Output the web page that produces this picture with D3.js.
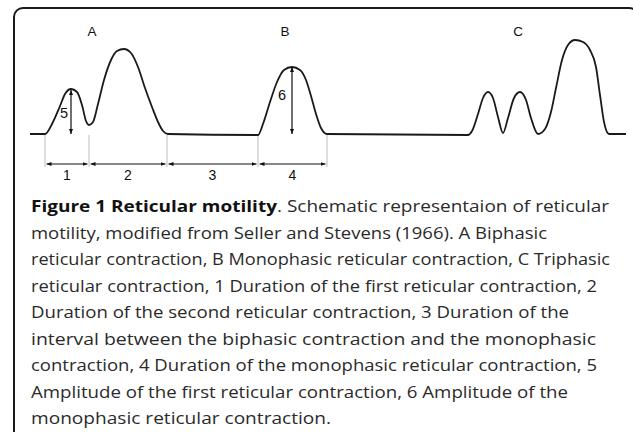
<!DOCTYPE html>
<html>
<head>
<meta charset="utf-8">
<script src="https://cdn.jsdelivr.net/npm/d3@7"></script>
<style>
  body { margin: 0; background: #fff; }
  .trace { fill: none; stroke: #1a1a1a; stroke-width: 1.8px; stroke-linejoin: round; }
  .guide { stroke: #c8c8c8; stroke-width: 1.2px; }
  .arrow { stroke: #111; stroke-width: 1.2px; }
  .lbl { font-family: "Liberation Sans", Arial, sans-serif; fill: #111; }
  .caption { font-family: "Open Sans", sans-serif; fill: #2a2a2a; }
</style>
</head>
<body>
<div class="chart"></div>
<script>

// Trace of reticular pressure (time units, amplitude units)

var time = [0, 15, 22, 30, 35, 41, 47, 52, 56, 59, 63, 68, 74, 81, 87, 94, 101, 108, 115, 122, 128, 133, 138,
    228, 233, 240, 247, 254, 262, 270, 276, 281, 286, 291, 297,
    438, 442, 448, 453, 458, 463, 468, 473, 478, 484, 490, 496, 501, 508,
    515, 521, 526, 532, 538, 545, 553, 560, 566, 570, 574, 579, 596];

var amplitude = [1, 1, 11, 29, 41, 46, 43, 30, 14, 10, 13, 31, 55, 75, 84, 86, 82, 68, 47, 28, 13, 4, 1,
    0, 11, 33, 53, 65, 68, 65, 55, 39, 21, 7, 1,
    0, 4, 21, 37, 43, 37, 18, 2, 17, 37, 43, 35, 17, 1,
    6, 23, 47, 75, 90, 95, 93, 85, 68, 40, 13, 1, 1];

// contraction labels
var contractions = ["A", "B", "C"];
var contractionTime = [62, 255, 488];

// duration markers (boundaries) and their labels
var boundaries = [15, 59, 137, 228, 297];
var durationLabels = ["1", "2", "3", "4"];

// amplitude markers
var amplitudeLabels = ["5", "6"];
var amplitudeTime = [41, 262];
var amplitudePeak = [45, 68];

// caption
var captionBold = "Figure 1 Reticular motility";
var captionLines = [
    ". Schematic representaion of reticular",
    "motility, modified from Seller and Stevens (1966). A Biphasic",
    "reticular contraction, B Monophasic reticular contraction, C Triphasic",
    "reticular contraction, 1 Duration of the first reticular contraction, 2",
    "Duration of the second reticular contraction, 3 Duration of the",
    "interval between the biphasic contraction and the monophasic",
    "contraction, 4 Duration of the monophasic reticular contraction, 5",
    "Amplitude of the first reticular contraction, 6 Amplitude of the",
    "monophasic reticular contraction."
];
// right end of each caption line in the figure
var captionEnd = [609, 547, 610, 597, 569, 596, 597, 568, 331];

var svgWidth = 633;
var svgHeight = 432;

var svg = d3.select(".chart")
    .append("svg")
    .attr("width", svgWidth)
    .attr("height", svgHeight);

// frame, only top-left part visible
svg.append("rect")
    .attr("x", 14)
    .attr("y", 8)
    .attr("width", 624)
    .attr("height", 460)
    .attr("rx", 9)
    .attr("fill", "none")
    .attr("stroke", "#1a1a1a")
    .attr("stroke-width", 2);

var defs = svg.append("defs");
defs.append("marker")
    .attr("id", "head")
    .attr("viewBox", "0 0 10 10")
    .attr("refX", 10)
    .attr("refY", 5)
    .attr("markerWidth", 5)
    .attr("markerHeight", 5)
    .attr("markerUnits", "userSpaceOnUse")
    .attr("orient", "auto-start-reverse")
    .append("path")
    .attr("d", "M0,1 L10,5 L0,9 Z")
    .attr("fill", "#111");

// scales
var xScale = d3.scaleLinear().domain([0, 600]).range([30, 630]);
var yScale = d3.scaleLinear().domain([0, 100]).range([135, 35]);

var points = time.map(function(t, i) {
    return [t, amplitude[i]];
});

var line = d3.line()
    .x(function(d) { return xScale(d[0]); })
    .y(function(d) { return yScale(d[1]); })
    .curve(d3.curveMonotoneX);

// vertical guide lines
var arrowY = 164;
svg.selectAll(".guide")
    .data(boundaries)
    .enter()
    .append("line")
    .attr("class", "guide")
    .attr("x1", function(d) { return xScale(d); })
    .attr("x2", function(d) { return xScale(d); })
    .attr("y1", yScale(0))
    .attr("y2", arrowY + 3);

svg.append("path")
    .datum(points)
    .attr("class", "trace")
    .attr("d", line);

// duration arrows
var segments = d3.pairs(boundaries);
svg.selectAll(".dur")
    .data(segments)
    .enter()
    .append("line")
    .attr("class", "arrow dur")
    .attr("x1", function(d) { return xScale(d[0]) + 1.5; })
    .attr("x2", function(d) { return xScale(d[1]) - 1.5; })
    .attr("y1", arrowY)
    .attr("y2", arrowY)
    .attr("marker-start", "url(#head)")
    .attr("marker-end", "url(#head)");

svg.selectAll(".durText")
    .data(segments)
    .enter()
    .append("text")
    .attr("class", "lbl durText")
    .attr("x", function(d) { return (xScale(d[0]) + xScale(d[1])) / 2; })
    .attr("y", 180)
    .attr("text-anchor", "middle")
    .attr("font-size", "14px")
    .text(function(d, i) { return durationLabels[i]; });

// amplitude arrows
svg.selectAll(".amp")
    .data(amplitudeTime)
    .enter()
    .append("line")
    .attr("class", "arrow amp")
    .attr("x1", function(d) { return xScale(d); })
    .attr("x2", function(d) { return xScale(d); })
    .attr("y1", function(d, i) { return yScale(amplitudePeak[i]); })
    .attr("y2", yScale(1))
    .attr("marker-start", "url(#head)")
    .attr("marker-end", "url(#head)");

svg.selectAll(".ampText")
    .data(amplitudeTime)
    .enter()
    .append("text")
    .attr("class", "lbl ampText")
    .attr("x", function(d, i) { return xScale(d) - (i === 0 ? 7 : 10); })
    .attr("y", function(d, i) { return i === 0 ? 118 : 100; })
    .attr("text-anchor", "middle")
    .attr("font-size", "14.5px")
    .text(function(d, i) { return amplitudeLabels[i]; });

// A, B, C
svg.selectAll(".phase")
    .data(contractions)
    .enter()
    .append("text")
    .attr("class", "lbl phase")
    .attr("x", function(d, i) { return xScale(contractionTime[i]); })
    .attr("y", 36)
    .attr("text-anchor", "middle")
    .attr("font-size", "13.5px")
    .text(function(d) { return d; });

// caption
var capX = 31;
var capTop = 212;
var capStep = 26.5;

var caption = svg.append("g").attr("class", "caption");

caption.selectAll("text")
    .data(captionLines)
    .enter()
    .append("text")
    .attr("x", capX)
    .attr("y", function(d, i) { return capTop + i * capStep; })
    .attr("font-size", "16.8px")
    .attr("textLength", function(d, i) { return captionEnd[i] - capX; })
    .attr("lengthAdjust", "spacingAndGlyphs")
    .each(function(d, i) {
        var t = d3.select(this);
        if (i === 0) {
            t.append("tspan")
                .attr("font-weight", "bold")
                .attr("fill", "#111")
                .text(captionBold);
        }
        t.append("tspan").text(d);
    });

</script>
</body>
</html>
